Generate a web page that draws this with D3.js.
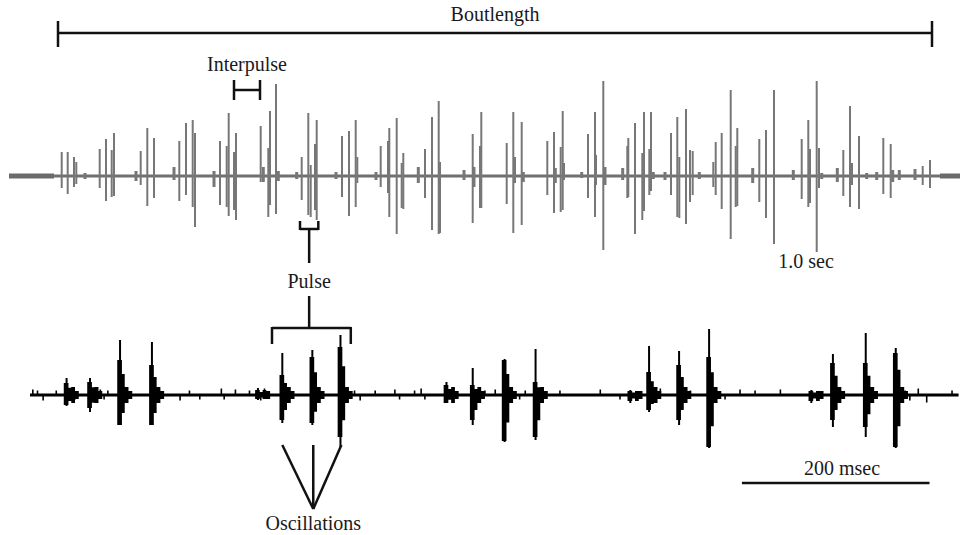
<!DOCTYPE html>
<html>
<head>
<meta charset="utf-8">
<script src="https://cdn.jsdelivr.net/npm/d3@7"></script>
<style>
  body { margin: 0; background: #fff; }
  text { font-family: "Liberation Serif", "Times New Roman", serif; fill: #1a1a1a; }
</style>
</head>
<body>
<script>
var w = 960;
var h = 535;

// top trace: whole bout (time in ms, amplitude in a.u.)
var topTime = [
  527, 587, 650, 673, 760,
  907, 970, 1027, 1050,
  1270, 1317, 1383, 1450,
  1650, 1703, 1770, 1837, 1860,
  2050, 2110, 2177, 2197, 2250, 2270,
  2517, 2543, 2593, 2610, 2670, 2693,
  2877, 2927, 2993, 3017, 3060, 3077,
  3270, 3330, 3400, 3467, 3483,
  3670, 3717, 3790, 3803, 3877, 3927, 3943,
  4093, 4160, 4230, 4297, 4310,
  4550, 4637, 4650, 4710, 4723,
  4977, 5043, 5060, 5127, 5143,
  5383, 5450, 5463, 5517, 5537, 5550,
  5727, 5790, 5860, 5870, 5943, 5960,
  6137, 6183, 6193, 6260, 6333, 6350, 6403, 6420, 6443,
  6560, 6620, 6683, 6703, 6770, 6810, 6837, 6903,
  7043, 7067, 7127, 7217, 7267, 7283,
  7437, 7503, 7570, 7650,
  7843, 7927, 7993, 8010, 8077, 8100, 8127,
  8283, 8343, 8410, 8430, 8500, 8577,
  8677, 8743, 8817, 8837, 8903,
  9060, 9137, 9210
];
var topUp = [
  24, 24, 19, 14, 3,
  27, 37, 26, 43,
  5, 25, 48, 38,
  9, 35, 53, 56, 43,
  5, 35, 30, 63, 24, 43,
  50, 9, 28, 65, 92, 5,
  4, 19, 63, 11, 32, 56,
  4, 40, 45, 56, 19,
  4, 30, 35, 48, 58, 13, 23,
  9, 27, 59, 75, 14,
  6, 42, 9, 30, 64,
  33, 64, 19, 54, 4,
  35, 44, 8, 29, 65, 13,
  4, 42, 64, 21, 95, 9,
  8, 30, 38, 53, 23, 64, 27, 64, 4,
  4, 43, 59, 19, 67, 26, 25, 4,
  14, 34, 43, 86, 30, 48,
  8, 37, 46, 86,
  6, 37, 56, 27, 95, 28, 3,
  8, 26, 70, 13, 40, 3,
  4, 38, 32, 6, 6,
  7, 10, 16
];
var topDown = [
  12, 18, 11, 8, 3,
  12, 25, 21, 20,
  5, 9, 30, 22,
  4, 25, 19, 31, 51,
  11, 29, 31, 40, 34, 44,
  6, 6, 41, 29, 38, 5,
  3, 24, 39, 41, 34, 44,
  3, 21, 40, 31, 7,
  4, 11, 17, 41, 58, 32, 33,
  7, 22, 54, 58, 57,
  4, 47, 11, 32, 32,
  28, 57, 7, 49, 6,
  19, 37, 7, 36, 34, 4,
  2, 22, 41, 9, 74, 9,
  4, 22, 21, 58, 44, 35, 19, 15, 3,
  4, 19, 41, 42, 48, 26, 19, 3,
  11, 19, 33, 63, 31, 30,
  7, 26, 42, 68,
  4, 23, 31, 27, 76, 12, 3,
  6, 20, 31, 9, 33, 3,
  4, 18, 22, 6, 4,
  4, 9, 12
];
var topRange = [0, 9510];
var topLeadIn = [0, 450];
var topLeadOut = [9310, 9510];

// bottom trace: three pulses zoomed (time in ms)
var botTime =     [38, 63, 95, 129, 242, 268, 300, 330, 443, 471, 505, 538, 639, 659, 691, 723, 832, 855, 890, 922];
var botPeakUp =   [17, 17, 55, 53,  7,   42,  45,  60,  13,  27,  36,  46,  5,   49,  44,  66,  5,   41,  62,  47];
var botPeakDown = [11, 17, 30, 30,  5,   28,  30,  52,  8,   30,  47,  45,  8,   17,  30,  53,  8,   32,  42,  53];
var botCoreUp =   [12, 13, 35, 30,  5,   20,  38,  48,  10,  10,  35,  13,  4,   23,  30,  38,  4,   32,  32,  42];
var botCoreDown = [10, 13, 30, 30,  4,   25,  28,  42,  8,   25,  46,  42,  6,   15,  25,  52,  6,   25,  32,  52];
var botNoise =    [3, 8, 14, 28, 48, 75, 79, 83, 138, 160, 170, 181, 204, 207, 219, 234, 246, 250, 346, 352, 368, 389, 394, 410, 417, 421, 480, 485, 496, 522, 528, 538, 565, 608, 629, 672, 704, 741, 757, 773, 800, 933, 938, 947, 956, 983];
var botNoiseAmp = [4, 3, -4, 3, -3, 4, -3, 3, 3, -4, 3, -3, 5, -3, 4, 3, -4, 5, 3, -4, 3, 4, -3, 3, 5, -3, -4, 3, 4, -3, 3, 4, 3, 4, -3, 5, 3, -3, 4, 3, 4, 3, -4, 5, -6, 3];
var botRange = [0, 990];
var scaleBarMs = [759, 959];

var svg = d3.select("body").append("svg")
  .attr("width", w)
  .attr("height", h);

// ---------- top trace ----------
var xTop = d3.scaleLinear().domain([0, 9510]).range([9, 960]);
var yTop = d3.scaleLinear().domain([-100, 100]).range([276, 76]);
var grey = "#777";

var topG = svg.append("g");
topG.append("line")
  .attr("x1", xTop(topRange[0])).attr("x2", xTop(topRange[1]))
  .attr("y1", yTop(0)).attr("y2", yTop(0))
  .attr("stroke", "#707070").attr("stroke-width", 3);
[topLeadIn, topLeadOut].forEach(function (r) {
  topG.append("line")
    .attr("x1", xTop(r[0])).attr("x2", xTop(r[1]))
    .attr("y1", yTop(0)).attr("y2", yTop(0))
    .attr("stroke", "#6a6a6a").attr("stroke-width", 5);
});
topG.selectAll(".spike")
  .data(topTime)
  .enter()
  .append("line")
  .classed("spike", true)
  .attr("x1", function (d) { return xTop(d); })
  .attr("x2", function (d) { return xTop(d); })
  .attr("y1", function (d, i) { return yTop(topUp[i]); })
  .attr("y2", function (d, i) { return yTop(-topDown[i]); })
  .attr("stroke", grey)
  .attr("stroke-width", function (d, i) { return topUp[i] < 10 ? 3 : 2; });

// ---------- bottom trace ----------
var xBot = d3.scaleLinear().domain([0, 990]).range([30, 958.6]);
var yBot = d3.scaleLinear().domain([-100, 100]).range([495, 295]);

var botG = svg.append("g");
botG.append("line")
  .attr("x1", xBot(botRange[0])).attr("x2", xBot(botRange[1]))
  .attr("y1", yBot(0)).attr("y2", yBot(0))
  .attr("stroke", "#000").attr("stroke-width", 3);

botG.selectAll(".noise")
  .data(botNoise)
  .enter()
  .append("line")
  .classed("noise", true)
  .attr("x1", function (d) { return xBot(d); })
  .attr("x2", function (d) { return xBot(d); })
  .attr("y1", yBot(0))
  .attr("y2", function (d, i) { return yBot(botNoiseAmp[i] + (botNoiseAmp[i] > 0 ? 1.5 : -1.5)); })
  .attr("stroke", "#000").attr("stroke-width", 1.6);

// core of each burst: stepped decay after a sharp onset
botG.selectAll(".core")
  .data(botTime)
  .enter()
  .append("polygon")
  .classed("core", true)
  .attr("points", function (d, i) {
    var u = botCoreUp[i], dn = botCoreDown[i];
    var pts = [
      [d - 2, u], [d + 3, u], [d + 3, u * 0.6], [d + 6, u * 0.6],
      [d + 6, Math.min(u, 8)], [d + 10, Math.min(u, 8)], [d + 10, 4], [d + 14, 4],
      [d + 14, -4], [d + 10, -4], [d + 10, -Math.min(dn, 8)], [d + 6, -Math.min(dn, 8)],
      [d + 6, -dn * 0.6], [d + 3, -dn * 0.6], [d + 3, -dn], [d - 2, -dn]
    ];
    return pts.map(function (p) { return xBot(p[0]) + "," + yBot(p[1]); }).join(" ");
  })
  .attr("fill", "#000");

botG.selectAll(".peak")
  .data(botTime)
  .enter()
  .append("line")
  .classed("peak", true)
  .attr("x1", function (d) { return xBot(d + 1); })
  .attr("x2", function (d) { return xBot(d + 1); })
  .attr("y1", function (d, i) { return yBot(botPeakUp[i]); })
  .attr("y2", function (d, i) { return yBot(-botPeakDown[i]); })
  .attr("stroke", "#000").attr("stroke-width", 2);

// ---------- annotations ----------
var ink = "#111";
function seg(x1, y1, x2, y2, sw) {
  svg.append("line")
    .attr("x1", x1).attr("y1", y1).attr("x2", x2).attr("y2", y2)
    .attr("stroke", ink).attr("stroke-width", sw || 2.5);
}
function label(txt, x, y) {
  svg.append("text").attr("x", x).attr("y", y)
    .attr("text-anchor", "middle").attr("font-size", 20).text(txt);
}

// Boutlength
var bout = [490, 9230];
seg(xTop(bout[0]), 33, xTop(bout[1]), 33);
seg(xTop(bout[0]), 21, xTop(bout[0]), 47);
seg(xTop(bout[1]), 21, xTop(bout[1]), 47);
label("Boutlength", 495, 21);

// Interpulse
var ipi = [2250, 2510];
label("Interpulse", 247, 71);
seg(xTop(ipi[0]), 90, xTop(ipi[1]), 90);
seg(xTop(ipi[0]), 80, xTop(ipi[0]), 100);
seg(xTop(ipi[1]), 80, xTop(ipi[1]), 100);

// Pulse bracket on top trace
var pulse = [2910, 3093];
var pulseMid = (pulse[0] + pulse[1]) / 2;
seg(xTop(pulse[0]), 229, xTop(pulse[1]), 229);
seg(xTop(pulse[0]), 221, xTop(pulse[0]), 230);
seg(xTop(pulse[1]), 221, xTop(pulse[1]), 230);
seg(xTop(pulseMid), 229, xTop(pulseMid), 263);
label("Pulse", xTop(pulseMid), 288);

// Pulse bracket on bottom trace
var pulseB = [258, 342];
seg(xTop(pulseMid), 296, xTop(pulseMid), 328);
seg(xBot(pulseB[0]), 328, xBot(pulseB[1]), 328);
seg(xBot(pulseB[0]), 327, xBot(pulseB[0]), 344);
seg(xBot(pulseB[1]), 327, xBot(pulseB[1]), 344);

// Oscillations
var osc = [269, 302, 332];
osc.forEach(function (t) {
  seg(xBot(t), 445, xBot(302), 509);
});
label("Oscillations", xBot(302), 530);

// scale labels
label("1.0 sec", 806, 268);
label("200 msec", 842, 475);
seg(xBot(scaleBarMs[0]), 483, xBot(scaleBarMs[1]), 483);
</script>
</body>
</html>
